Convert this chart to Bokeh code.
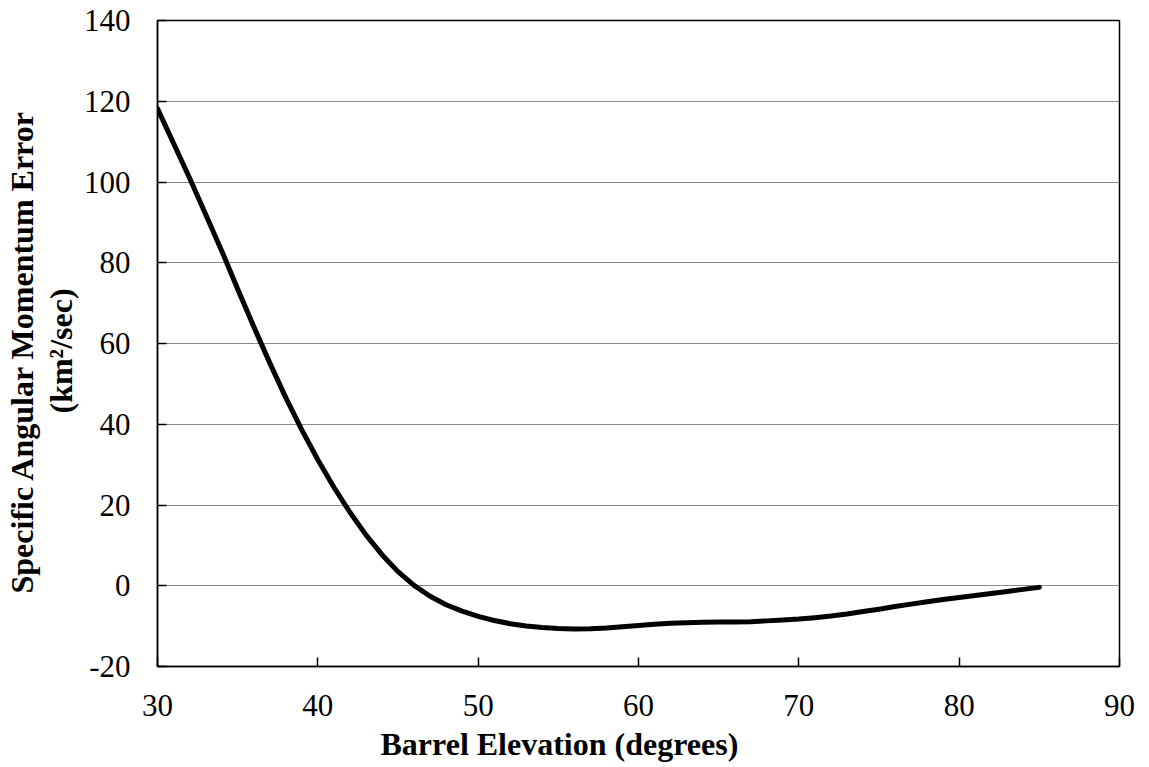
from bokeh.plotting import figure
from bokeh.models import Range1d, FixedTicker, CustomJSTickFormatter, Title
from bokeh.embed import file_html
from bokeh.resources import INLINE

# Barrel elevation (degrees)
elevation = [30, 31, 32, 33, 34, 35, 36, 37, 38, 39, 40, 41, 42, 43, 44, 45, 46,
             47, 48, 49, 50, 51, 52, 53, 54, 55, 56, 57, 58, 59, 60, 61, 62, 63,
             64, 65, 66, 67, 68, 69, 70, 71, 72, 73, 74, 75, 76, 77, 78, 79, 80,
             81, 82, 83, 84, 85]
# Specific angular momentum error (km^2/sec)
h_error = [118.2, 109.6, 101.0, 92.0, 83.0, 73.5, 64.2, 55.2, 46.6, 38.6, 31.2,
           24.4, 18.2, 12.6, 7.7, 3.5, 0.1, -2.6, -4.7, -6.3, -7.6, -8.6, -9.4,
           -9.95, -10.35, -10.6, -10.7, -10.65, -10.45, -10.15, -9.85, -9.55,
           -9.3, -9.15, -9.05, -9.0, -9.0, -8.9, -8.7, -8.5, -8.25, -7.9, -7.5,
           -7.0, -6.4, -5.8, -5.15, -4.55, -3.95, -3.4, -2.9, -2.4, -1.9, -1.4,
           -0.9, -0.4]

x_ticks = [30, 40, 50, 60, 70, 80, 90]
y_ticks = [-20, 0, 20, 40, 60, 80, 100, 120, 140]

x_title = "Barrel Elevation (degrees)"
y_title_1 = "Specific Angular Momentum Error"
y_title_2 = "(km\u00b2/sec)"

FONT = "Liberation Serif"

p = figure(output_backend="svg", toolbar_location=None,
           frame_width=962, frame_height=646,
           min_border_left=157, min_border_right=30,
           min_border_top=20, min_border_bottom=101,
           x_range=Range1d(30, 90), y_range=Range1d(-20, 140),
           background_fill_color="white", border_fill_color="white")

p.line(elevation, h_error, line_color="black", line_width=5,
       line_join="round", line_cap="round")

p.outline_line_color = "black"
p.outline_line_width = 1.5

p.xgrid.visible = False
p.ygrid.grid_line_color = "#8a8a8a"
p.ygrid.grid_line_width = 1

p.xaxis.ticker = FixedTicker(ticks=x_ticks)
p.yaxis.ticker = FixedTicker(ticks=y_ticks)

fmt = CustomJSTickFormatter(code="return tick.toFixed(0);")

for ax in (p.xaxis, p.yaxis):
    ax.formatter = fmt
    ax.axis_line_color = "black"
    ax.axis_line_width = 1.5
    ax.major_tick_in = 9
    ax.major_tick_out = 0
    ax.major_tick_line_color = "black"
    ax.major_tick_line_width = 1.5
    ax.minor_tick_line_color = None
    ax.major_label_text_font = FONT
    ax.major_label_text_font_size = "31px"
    ax.major_label_text_color = "black"

p.xaxis.major_label_standoff = 28
p.yaxis.major_label_standoff = 27

common = dict(text_font=FONT, text_font_size="32px", text_font_style="bold",
              text_color="black", align="left")

p.add_layout(Title(text=x_title, offset=223, standoff=11, **common), "below")
p.add_layout(Title(text=y_title_2, offset=253, standoff=3, **common), "left")
p.add_layout(Title(text=y_title_1, offset=73, standoff=0, **common), "left")

open("out.html", "w").write(file_html(p, INLINE))
